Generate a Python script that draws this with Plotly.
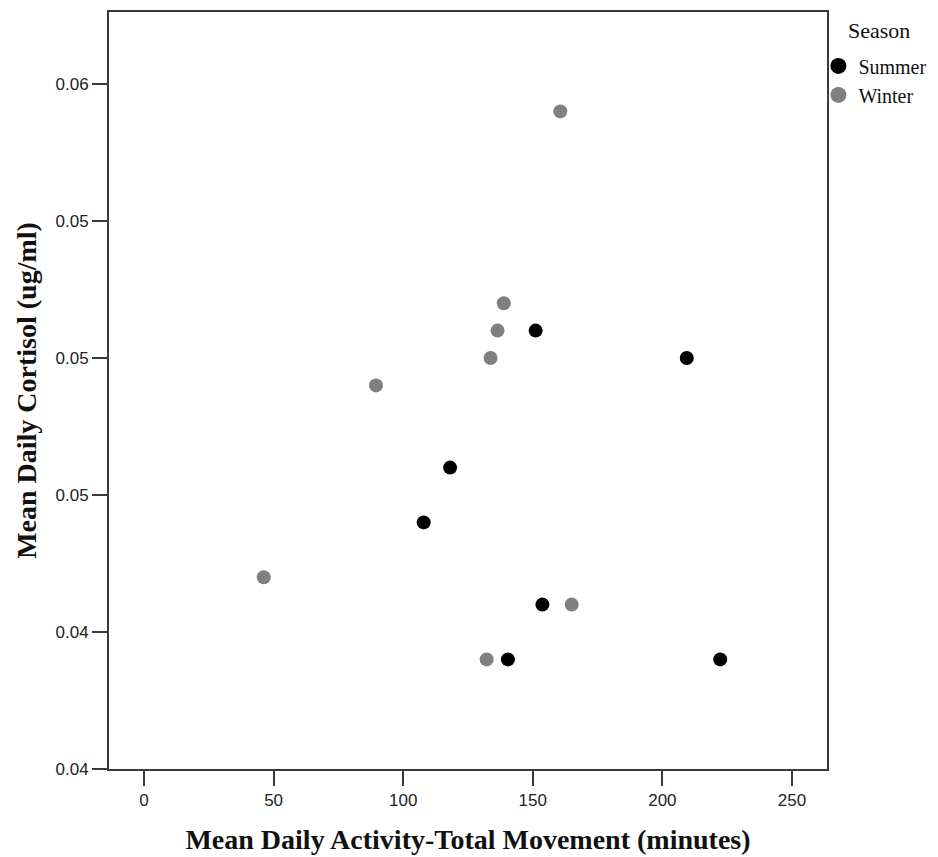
import plotly.graph_objects as go

# Data
summer_x = [151.1, 209.4, 118.1, 107.9, 153.7, 140.4, 222.3]
summer_y = [0.051, 0.050, 0.046, 0.044, 0.041, 0.039, 0.039]
winter_x = [160.6, 138.8, 136.4, 133.7, 89.5, 46.2, 165.0, 132.2]
winter_y = [0.059, 0.052, 0.051, 0.050, 0.049, 0.042, 0.041, 0.039]

x_ticks = [0, 50, 100, 150, 200, 250]
y_ticks = [0.035, 0.040, 0.045, 0.050, 0.055, 0.060]
y_ticktext = ["0.04", "0.04", "0.05", "0.05", "0.05", "0.06"]

SUMMER_COLOR = "#000000"
WINTER_COLOR = "#808080"
AXIS_COLOR = "#3a3a3a"
SERIF = "Liberation Serif, Times New Roman, serif"
SANS = "Liberation Sans, Arial, sans-serif"

fig = go.Figure()
fig.add_trace(go.Scatter(x=summer_x, y=summer_y, mode="markers", name="Summer",
                         marker=dict(color=SUMMER_COLOR, size=14), showlegend=False))
fig.add_trace(go.Scatter(x=winter_x, y=winter_y, mode="markers", name="Winter",
                         marker=dict(color=WINTER_COLOR, size=14), showlegend=False))
# legend-only entries with larger symbols
fig.add_trace(go.Scatter(x=[None], y=[None], mode="markers", name="Summer",
                         marker=dict(color=SUMMER_COLOR, size=20)))
fig.add_trace(go.Scatter(x=[None], y=[None], mode="markers", name="Winter",
                         marker=dict(color=WINTER_COLOR, size=20)))

fig.update_layout(
    width=930, height=849,
    margin=dict(l=101, r=111, t=4, b=88, autoexpand=False),
    paper_bgcolor="white", plot_bgcolor="white",
    showlegend=True,
    legend=dict(
        x=0.988, xanchor="left", y=0.9545, yanchor="top",
        font=dict(family=SERIF, size=20, color="#111"),
        bgcolor="rgba(0,0,0,0)", tracegroupgap=0, itemwidth=30,
    ),
    annotations=[dict(
        text="Season", xref="paper", yref="paper", x=1.0264, y=0.9762,
        xanchor="left", yanchor="middle", showarrow=False,
        font=dict(family=SERIF, size=22, color="#111"),
    )],
    xaxis=dict(
        range=[-13.5, 263.5], tickvals=x_ticks,
        showgrid=False, zeroline=False,
        showline=True, linecolor=AXIS_COLOR, linewidth=2, mirror=True,
        ticks="outside", ticklen=15, tickwidth=2, tickcolor=AXIS_COLOR,
        tickfont=dict(family=SANS, size=17, color="#222"),
        title=dict(text="<b>Mean Daily Activity-Total Movement (minutes)</b>",
                   font=dict(family=SERIF, size=28, color="#111"), standoff=20),
    ),
    yaxis=dict(
        range=[0.035, 0.062627], tickvals=y_ticks, ticktext=y_ticktext,
        showgrid=False, zeroline=False,
        showline=True, linecolor=AXIS_COLOR, linewidth=2, mirror=True,
        ticks="outside", ticklen=15, tickwidth=2, tickcolor=AXIS_COLOR,
        tickfont=dict(family=SANS, size=17, color="#222"),
        title=dict(text="<b>Mean Daily Cortisol (ug/ml)</b>",
                   font=dict(family=SERIF, size=28, color="#111"), standoff=11),
    ),
)

fig.write_html("out.html")
